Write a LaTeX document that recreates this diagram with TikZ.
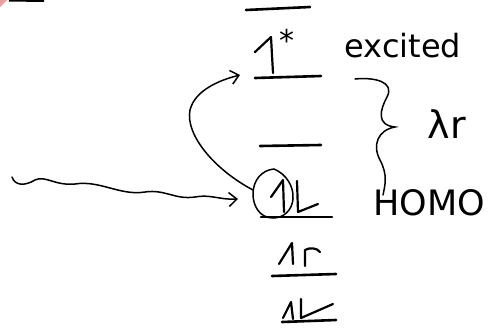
\documentclass[tikz,border=0pt]{standalone}
\usepackage{fontspec}
\setmainfont{DejaVu Sans}
\usetikzlibrary{arrows.meta,decorations.pathmorphing}
\definecolor{pinkish}{RGB}{232,160,160}
\tikzset{
  x=1pt,y=-1pt,
  level/.style={line width=2.6pt,line cap=round},
  spin/.style={line width=2.2pt,line cap=round,line join=round},
  pen/.style={line width=1.5pt,line cap=round},
  lbl/.style={inner sep=0pt,font=\fontsize{32}{32}\selectfont},
  opentip/.style={-{Straight Barb[length=8pt,width=14pt,line width=1.5pt]}}
}
\begin{document}
\begin{tikzpicture}
\useasboundingbox (0,0) rectangle (495,335);
% corner artifacts
\fill[pinkish] (0,0) -- (7,0) -- (0,7) -- cycle;
\draw[line width=2pt] (9,0.5) -- (44,1);
% levels
\draw[level] (246,10) -- (310,7);
\draw[level] (255,78) -- (321,76);
\draw[level] (260,146) -- (321,145);
\draw[level] (261,217) -- (332,217);
\draw[level] (272,276) -- (336,274);
\draw[level] (282,322) -- (336,320);
% spins: excited
\draw[spin] (255,52) -- (271,37) -- (273,73);
\node[lbl,font=\fontsize{30}{30}\selectfont] (star) at (287,40) {*};
% HOMO spins
\draw[spin] (271,197) -- (283,180) -- (284,212);
\draw[spin] (297,181) -- (298,212) -- (318,204);
\coordinate (homoSpin) at (253,190);
\draw[pen] (273,218) .. controls (259,218) and (253,205) .. (253,194)
  .. controls (253,180) and (262,170) .. (274,169)
  .. controls (286,174) and (294,186) .. (293,199)
  .. controls (292,210) and (284,218) .. (273,218);
% lower spins
\draw[spin] (279,264) -- (292,243) -- (293,264);
\draw[spin] (305,266) -- (305,250) .. controls (310,247) and (317,248) .. (320,252);
\draw[spin] (283,318) -- (291,302) -- (293,319);
\draw[spin] (301,299) -- (301,318) -- (333,304);
% texts
\node[lbl] (excited) at (403,46) {excited};
\node[lbl,font=\fontsize{35}{35}\selectfont] (homo) at (429,203) {HOMO};
\node[lbl,font=\fontsize{38}{38}\selectfont] (lr) at (447,124) {λr};
% brace
\coordinate (bTop) at (355,79);
\coordinate (bTip) at (395,127);
\coordinate (bBot) at (383,195);
\draw[pen] (bTop) .. controls (375,77) and (395,82) .. (387,97)
  .. controls (380,110) and (376,125) .. (bTip)
  .. controls (378,130) and (372,145) .. (380,160)
  .. controls (388,175) and (385,185) .. (bBot);
% excitation arrow
\coordinate (excTip) at (240,75);
\draw[pen,opentip] (homoSpin) .. controls (215,170) and (185,135) .. (190,110)
  .. controls (195,90) and (220,80) .. (excTip);
% photon
\coordinate (photonStart) at (12,177);
\coordinate (photonEnd) at (238,199);
\draw[pen,opentip] (photonStart) .. controls (15,186) and (25,186) .. (35,180)
  .. controls (45,175) and (55,186) .. (75,184)
  .. controls (100,180) and (120,196) .. (145,192)
  .. controls (165,189) and (175,200) .. (195,197)
  .. controls (210,194) and (220,200) .. (photonEnd);
\end{tikzpicture}
\end{document}
